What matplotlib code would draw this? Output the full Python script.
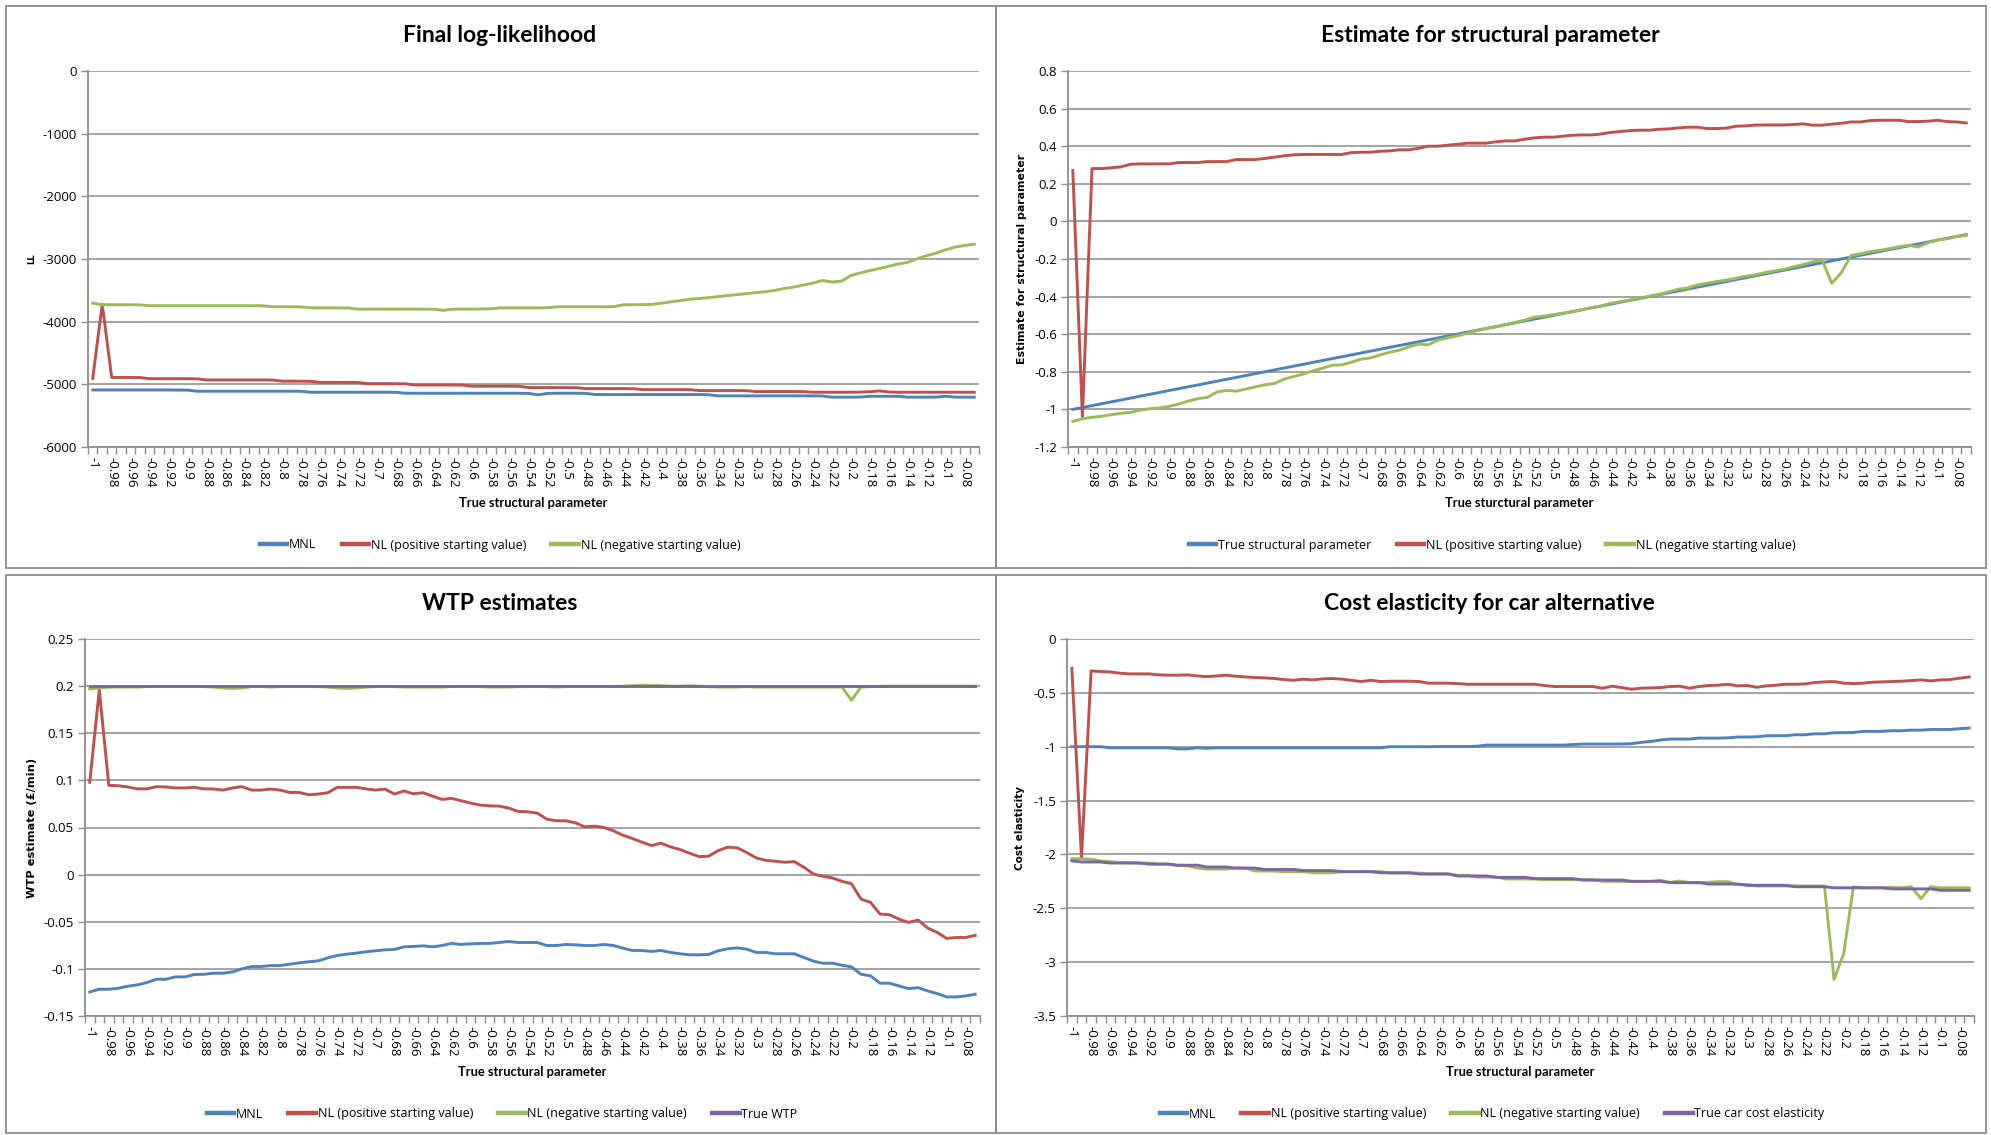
import numpy as np
import matplotlib
matplotlib.use("Agg")
import matplotlib.pyplot as plt
from matplotlib.lines import Line2D
from matplotlib.patches import Rectangle

# x categories: true structural parameter
categories = [
    -1.00, -0.99, -0.98, -0.97, -0.96, -0.95, -0.94, -0.93, -0.92, -0.91,
    -0.90, -0.89, -0.88, -0.87, -0.86, -0.85, -0.84, -0.83, -0.82, -0.81,
    -0.80, -0.79, -0.78, -0.77, -0.76, -0.75, -0.74, -0.73, -0.72, -0.71,
    -0.70, -0.69, -0.68, -0.67, -0.66, -0.65, -0.64, -0.63, -0.62, -0.61,
    -0.60, -0.59, -0.58, -0.57, -0.56, -0.55, -0.54, -0.53, -0.52, -0.51,
    -0.50, -0.49, -0.48, -0.47, -0.46, -0.45, -0.44, -0.43, -0.42, -0.41,
    -0.40, -0.39, -0.38, -0.37, -0.36, -0.35, -0.34, -0.33, -0.32, -0.31,
    -0.30, -0.29, -0.28, -0.27, -0.26, -0.25, -0.24, -0.23, -0.22, -0.21,
    -0.20, -0.19, -0.18, -0.17, -0.16, -0.15, -0.14, -0.13, -0.12, -0.11,
    -0.10, -0.09, -0.08, -0.07]

# final log-likelihood
ll_mnl = [
    -5090, -5090, -5090, -5090, -5090, -5090, -5090, -5090, -5090, -5092,
    -5092, -5110, -5110, -5110, -5110, -5110, -5110, -5110, -5110, -5110,
    -5110, -5110, -5112, -5126, -5126, -5126, -5126, -5126, -5126, -5126,
    -5126, -5126, -5128, -5142, -5142, -5142, -5142, -5142, -5142, -5142,
    -5142, -5142, -5142, -5142, -5142, -5142, -5145, -5168, -5145, -5142,
    -5142, -5142, -5145, -5163, -5163, -5163, -5163, -5163, -5163, -5163,
    -5163, -5163, -5163, -5163, -5163, -5166, -5184, -5184, -5184, -5184,
    -5184, -5184, -5184, -5184, -5184, -5184, -5184, -5186, -5205, -5205,
    -5205, -5203, -5190, -5190, -5190, -5192, -5205, -5205, -5205, -5203,
    -5190, -5205, -5205, -5205]
ll_nl_pos = [
    -4905, -3721, -4890, -4890, -4890, -4892, -4910, -4910, -4910, -4910,
    -4910, -4912, -4930, -4930, -4930, -4930, -4930, -4930, -4930, -4932,
    -4950, -4950, -4950, -4952, -4968, -4968, -4968, -4968, -4970, -4990,
    -4990, -4990, -4990, -4992, -5010, -5010, -5010, -5010, -5010, -5012,
    -5030, -5030, -5030, -5030, -5030, -5032, -5052, -5052, -5052, -5052,
    -5052, -5054, -5068, -5068, -5068, -5068, -5068, -5070, -5084, -5084,
    -5084, -5084, -5084, -5086, -5100, -5100, -5100, -5100, -5100, -5102,
    -5115, -5115, -5115, -5115, -5115, -5117, -5126, -5126, -5126, -5126,
    -5126, -5124, -5118, -5105, -5122, -5126, -5126, -5126, -5126, -5126,
    -5126, -5126, -5126, -5126]
ll_nl_neg = [
    -3705, -3730, -3730, -3730, -3730, -3732, -3745, -3745, -3745, -3745,
    -3745, -3745, -3745, -3745, -3745, -3745, -3745, -3745, -3747, -3763,
    -3763, -3763, -3765, -3780, -3780, -3780, -3780, -3782, -3800, -3800,
    -3800, -3800, -3800, -3800, -3800, -3800, -3802, -3820, -3800, -3800,
    -3800, -3798, -3795, -3780, -3780, -3780, -3780, -3780, -3778, -3763,
    -3763, -3763, -3763, -3763, -3763, -3760, -3730, -3730, -3728, -3725,
    -3705, -3685, -3663, -3642, -3631, -3615, -3600, -3584, -3568, -3552,
    -3536, -3521, -3500, -3468, -3447, -3415, -3384, -3342, -3368, -3352,
    -3263, -3221, -3184, -3152, -3115, -3079, -3052, -2995, -2947, -2905,
    -2852, -2810, -2784, -2763]

# estimate for structural parameter
est_true = [
    -1.00, -0.99, -0.98, -0.97, -0.96, -0.95, -0.94, -0.93, -0.92, -0.91,
    -0.90, -0.89, -0.88, -0.87, -0.86, -0.85, -0.84, -0.83, -0.82, -0.81,
    -0.80, -0.79, -0.78, -0.77, -0.76, -0.75, -0.74, -0.73, -0.72, -0.71,
    -0.70, -0.69, -0.68, -0.67, -0.66, -0.65, -0.64, -0.63, -0.62, -0.61,
    -0.60, -0.59, -0.58, -0.57, -0.56, -0.55, -0.54, -0.53, -0.52, -0.51,
    -0.50, -0.49, -0.48, -0.47, -0.46, -0.45, -0.44, -0.43, -0.42, -0.41,
    -0.40, -0.39, -0.38, -0.37, -0.36, -0.35, -0.34, -0.33, -0.32, -0.31,
    -0.30, -0.29, -0.28, -0.27, -0.26, -0.25, -0.24, -0.23, -0.22, -0.21,
    -0.20, -0.19, -0.18, -0.17, -0.16, -0.15, -0.14, -0.13, -0.12, -0.11,
    -0.10, -0.09, -0.08, -0.07]
est_nl_pos = [
    0.271, -1.04, 0.281, 0.281, 0.285, 0.290, 0.304, 0.306, 0.306, 0.306,
    0.306, 0.313, 0.313, 0.313, 0.318, 0.318, 0.318, 0.329, 0.329, 0.329,
    0.335, 0.342, 0.349, 0.354, 0.356, 0.356, 0.356, 0.356, 0.356, 0.366,
    0.368, 0.368, 0.373, 0.375, 0.381, 0.381, 0.389, 0.400, 0.400, 0.405,
    0.410, 0.416, 0.416, 0.416, 0.423, 0.428, 0.428, 0.437, 0.444, 0.448,
    0.448, 0.453, 0.458, 0.460, 0.460, 0.465, 0.473, 0.478, 0.483, 0.485,
    0.485, 0.490, 0.492, 0.497, 0.501, 0.501, 0.494, 0.494, 0.496, 0.506,
    0.508, 0.512, 0.513, 0.513, 0.513, 0.515, 0.519, 0.512, 0.512, 0.517,
    0.522, 0.529, 0.529, 0.536, 0.538, 0.538, 0.538, 0.531, 0.531, 0.533,
    0.538, 0.531, 0.529, 0.524]
est_nl_neg = [
    -1.064, -1.050, -1.042, -1.037, -1.028, -1.021, -1.016, -1.004, -0.996, -0.993,
    -0.984, -0.972, -0.956, -0.943, -0.936, -0.908, -0.899, -0.903, -0.892, -0.880,
    -0.869, -0.862, -0.839, -0.825, -0.812, -0.795, -0.781, -0.765, -0.763, -0.749,
    -0.733, -0.726, -0.710, -0.696, -0.685, -0.667, -0.653, -0.656, -0.632, -0.619,
    -0.609, -0.596, -0.582, -0.570, -0.562, -0.550, -0.538, -0.526, -0.510, -0.504,
    -0.496, -0.488, -0.481, -0.469, -0.458, -0.450, -0.435, -0.428, -0.419, -0.407,
    -0.398, -0.388, -0.375, -0.361, -0.354, -0.338, -0.329, -0.320, -0.313, -0.303,
    -0.292, -0.285, -0.273, -0.264, -0.255, -0.242, -0.230, -0.216, -0.205, -0.329,
    -0.273, -0.182, -0.172, -0.161, -0.154, -0.145, -0.135, -0.127, -0.136, -0.113,
    -0.099, -0.092, -0.081, -0.074]

# WTP estimates
wtp_mnl = [
    -0.1245, -0.1216, -0.1216, -0.1206, -0.1184, -0.1170, -0.1145, -0.1110, -0.1110, -0.1085,
    -0.1085, -0.1060, -0.1057, -0.1046, -0.1046, -0.1032, -0.1000, -0.0975, -0.0975, -0.0965,
    -0.0965, -0.0950, -0.0936, -0.0925, -0.0915, -0.0883, -0.0858, -0.0844, -0.0833, -0.0819,
    -0.0808, -0.0798, -0.0794, -0.0766, -0.0762, -0.0755, -0.0766, -0.0752, -0.0730, -0.0741,
    -0.0734, -0.0730, -0.0730, -0.0720, -0.0709, -0.0720, -0.0720, -0.0720, -0.0752, -0.0752,
    -0.0741, -0.0745, -0.0752, -0.0752, -0.0741, -0.0752, -0.0780, -0.0805, -0.0805, -0.0815,
    -0.0805, -0.0826, -0.0840, -0.0851, -0.0851, -0.0847, -0.0808, -0.0787, -0.0777, -0.0791,
    -0.0826, -0.0826, -0.0840, -0.0840, -0.0840, -0.0879, -0.0918, -0.0940, -0.0940, -0.0961,
    -0.0979, -0.1057, -0.1074, -0.1152, -0.1152, -0.1181, -0.1209, -0.1199, -0.1234, -0.1262,
    -0.1298, -0.1298, -0.1287, -0.1269]
wtp_nl_pos = [
    0.0980, 0.1960, 0.0947, 0.0943, 0.0930, 0.0910, 0.0910, 0.0933, 0.0930, 0.0920,
    0.0920, 0.0926, 0.0910, 0.0908, 0.0897, 0.0920, 0.0933, 0.0897, 0.0897, 0.0908,
    0.0897, 0.0872, 0.0872, 0.0847, 0.0855, 0.0869, 0.0926, 0.0926, 0.0926, 0.0910,
    0.0897, 0.0908, 0.0855, 0.0887, 0.0858, 0.0869, 0.0833, 0.0798, 0.0809, 0.0784,
    0.0759, 0.0738, 0.0730, 0.0727, 0.0706, 0.0670, 0.0667, 0.0652, 0.0589, 0.0571,
    0.0571, 0.0550, 0.0507, 0.0514, 0.0500, 0.0465, 0.0418, 0.0383, 0.0344, 0.0309,
    0.0333, 0.0294, 0.0266, 0.0227, 0.0191, 0.0195, 0.0255, 0.0291, 0.0284, 0.0234,
    0.0177, 0.0152, 0.0142, 0.0131, 0.0138, 0.0078, 0.0007, -0.0018, -0.0035, -0.0071,
    -0.0096, -0.0259, -0.0294, -0.0418, -0.0426, -0.0472, -0.0507, -0.0482, -0.0567, -0.0613,
    -0.0677, -0.0667, -0.0667, -0.0645]
wtp_nl_neg = [
    0.1970, 0.1980, 0.1990, 0.1990, 0.1990, 0.1990, 0.1995, 0.1995, 0.1995, 0.1995,
    0.1995, 0.1995, 0.1995, 0.1990, 0.1980, 0.1975, 0.1980, 0.1995, 0.1995, 0.1990,
    0.1995, 0.1995, 0.1995, 0.1995, 0.1995, 0.1990, 0.1980, 0.1975, 0.1980, 0.1990,
    0.1995, 0.1995, 0.1995, 0.1990, 0.1990, 0.1990, 0.1990, 0.1990, 0.1995, 0.1995,
    0.1995, 0.1995, 0.1990, 0.1990, 0.1990, 0.1995, 0.1995, 0.1995, 0.1995, 0.1990,
    0.1995, 0.1995, 0.1995, 0.1995, 0.1995, 0.1995, 0.2000, 0.2005, 0.2008, 0.2008,
    0.2005, 0.2000, 0.2000, 0.2003, 0.2000, 0.1995, 0.1990, 0.1990, 0.1990, 0.1995,
    0.1990, 0.1990, 0.1990, 0.1990, 0.1990, 0.1990, 0.1990, 0.1990, 0.1990, 0.1990,
    0.1850, 0.1990, 0.1995, 0.2000, 0.2000, 0.2000, 0.2000, 0.2000, 0.2000, 0.2000,
    0.2000, 0.2000, 0.2000, 0.2000]
wtp_true = [
    0.2, 0.2, 0.2, 0.2, 0.2, 0.2, 0.2, 0.2, 0.2, 0.2,
    0.2, 0.2, 0.2, 0.2, 0.2, 0.2, 0.2, 0.2, 0.2, 0.2,
    0.2, 0.2, 0.2, 0.2, 0.2, 0.2, 0.2, 0.2, 0.2, 0.2,
    0.2, 0.2, 0.2, 0.2, 0.2, 0.2, 0.2, 0.2, 0.2, 0.2,
    0.2, 0.2, 0.2, 0.2, 0.2, 0.2, 0.2, 0.2, 0.2, 0.2,
    0.2, 0.2, 0.2, 0.2, 0.2, 0.2, 0.2, 0.2, 0.2, 0.2,
    0.2, 0.2, 0.2, 0.2, 0.2, 0.2, 0.2, 0.2, 0.2, 0.2,
    0.2, 0.2, 0.2, 0.2, 0.2, 0.2, 0.2, 0.2, 0.2, 0.2,
    0.2, 0.2, 0.2, 0.2, 0.2, 0.2, 0.2, 0.2, 0.2, 0.2,
    0.2, 0.2, 0.2, 0.2]

# cost elasticity for car alternative
el_mnl = [
    -1.000, -1.000, -1.000, -1.000, -1.010, -1.010, -1.010, -1.010, -1.010, -1.010,
    -1.010, -1.020, -1.020, -1.010, -1.015, -1.010, -1.010, -1.010, -1.010, -1.010,
    -1.010, -1.010, -1.010, -1.010, -1.010, -1.010, -1.010, -1.010, -1.010, -1.010,
    -1.010, -1.010, -1.010, -1.000, -1.000, -1.000, -1.000, -1.000, -0.998, -0.998,
    -0.998, -0.998, -0.995, -0.985, -0.985, -0.985, -0.985, -0.985, -0.985, -0.985,
    -0.985, -0.985, -0.980, -0.975, -0.975, -0.975, -0.975, -0.975, -0.972, -0.960,
    -0.951, -0.938, -0.929, -0.929, -0.929, -0.920, -0.920, -0.920, -0.918, -0.910,
    -0.910, -0.908, -0.898, -0.898, -0.897, -0.889, -0.889, -0.880, -0.880, -0.870,
    -0.870, -0.868, -0.858, -0.858, -0.857, -0.852, -0.852, -0.846, -0.846, -0.840,
    -0.840, -0.840, -0.833, -0.827]
el_nl_pos = [
    -0.272, -2.030, -0.296, -0.302, -0.306, -0.318, -0.324, -0.324, -0.324, -0.333,
    -0.336, -0.336, -0.333, -0.343, -0.349, -0.343, -0.336, -0.346, -0.352, -0.358,
    -0.361, -0.367, -0.377, -0.383, -0.373, -0.380, -0.370, -0.367, -0.373, -0.383,
    -0.395, -0.383, -0.395, -0.392, -0.392, -0.392, -0.395, -0.410, -0.410, -0.410,
    -0.414, -0.420, -0.420, -0.420, -0.420, -0.420, -0.420, -0.420, -0.420, -0.432,
    -0.441, -0.441, -0.441, -0.441, -0.441, -0.457, -0.438, -0.451, -0.466, -0.457,
    -0.454, -0.451, -0.441, -0.438, -0.457, -0.441, -0.432, -0.429, -0.420, -0.435,
    -0.432, -0.448, -0.435, -0.429, -0.420, -0.420, -0.417, -0.404, -0.398, -0.395,
    -0.410, -0.414, -0.410, -0.401, -0.398, -0.395, -0.392, -0.386, -0.380, -0.389,
    -0.380, -0.377, -0.364, -0.352]
el_nl_neg = [
    -2.040, -2.040, -2.045, -2.060, -2.068, -2.075, -2.075, -2.080, -2.080, -2.090,
    -2.090, -2.105, -2.105, -2.127, -2.136, -2.136, -2.136, -2.127, -2.127, -2.154,
    -2.154, -2.154, -2.160, -2.160, -2.160, -2.170, -2.170, -2.170, -2.160, -2.160,
    -2.160, -2.160, -2.160, -2.173, -2.173, -2.173, -2.173, -2.180, -2.180, -2.180,
    -2.194, -2.194, -2.210, -2.210, -2.210, -2.228, -2.228, -2.228, -2.228, -2.234,
    -2.234, -2.234, -2.234, -2.234, -2.234, -2.250, -2.250, -2.250, -2.250, -2.250,
    -2.250, -2.240, -2.259, -2.247, -2.262, -2.262, -2.259, -2.253, -2.253, -2.280,
    -2.280, -2.293, -2.293, -2.293, -2.293, -2.293, -2.293, -2.293, -2.293, -3.160,
    -2.920, -2.300, -2.310, -2.310, -2.310, -2.305, -2.310, -2.300, -2.410, -2.300,
    -2.310, -2.310, -2.310, -2.310]
el_true = [
    -2.060, -2.070, -2.070, -2.070, -2.080, -2.080, -2.080, -2.080, -2.090, -2.090,
    -2.090, -2.100, -2.100, -2.100, -2.117, -2.117, -2.117, -2.127, -2.127, -2.127,
    -2.140, -2.140, -2.140, -2.140, -2.150, -2.150, -2.150, -2.150, -2.160, -2.160,
    -2.160, -2.160, -2.170, -2.170, -2.170, -2.170, -2.182, -2.182, -2.182, -2.182,
    -2.200, -2.200, -2.200, -2.200, -2.213, -2.213, -2.213, -2.213, -2.225, -2.225,
    -2.225, -2.225, -2.225, -2.238, -2.238, -2.238, -2.238, -2.238, -2.250, -2.250,
    -2.250, -2.250, -2.262, -2.262, -2.262, -2.262, -2.275, -2.275, -2.275, -2.275,
    -2.287, -2.287, -2.287, -2.287, -2.287, -2.300, -2.300, -2.300, -2.300, -2.310,
    -2.310, -2.310, -2.310, -2.310, -2.310, -2.320, -2.320, -2.320, -2.320, -2.320,
    -2.333, -2.333, -2.333, -2.333]

BLUE = '#4F81BD'
RED = '#C0504D'
GREEN = '#9BBB59'
PURPLE = '#8064A2'
GRID = '#9C9C9C'
EDGE = '#8C8C8C'

W, H = 1991, 1135
fig = plt.figure(figsize=(W / 100, H / 100), dpi=100)
fig.patch.set_facecolor('white')
renderer = fig.canvas.get_renderer()


def fx(px):
    return px / W


def fy(py):
    return 1 - py / H


def fmt(v):
    return f"{round(v, 4):g}"


def fit(t, length):
    # scale a text so its long side spans `length` pixels
    bb = t.get_window_extent(renderer)
    t.set_fontsize(t.get_fontsize() * length / max(bb.width, bb.height))


def chart(box, plot, title, title_pos, ylabel, ylabel_x, ylabel_len,
          xlabel, xlabel_y, series, yticks, legend_pos):
    # chart area border
    l, t, r, b = box
    fig.add_artist(Rectangle((fx(l), fy(b)), (r - l) / W, (b - t) / H,
                             transform=fig.transFigure, fill=False,
                             ec=EDGE, lw=1.3))
    pl, pt, pr, pb = plot
    ax = fig.add_axes([fx(pl), fy(pb), (pr - pl) / W, (pb - pt) / H])
    n = len(categories)
    idx = np.arange(n)
    handles = []
    for label, vals, color in series:
        ax.plot(idx, vals, color=color, lw=2.1, solid_joinstyle='round')
        handles.append(Line2D([], [], color=color, lw=3.2, label=label))

    ax.set_xlim(-0.5, n - 0.5)
    ax.set_ylim(yticks[0], yticks[-1])
    ax.set_yticks(yticks)
    ax.set_yticklabels([fmt(v) for v in yticks], family='Open Sans',
                       fontsize=9.5)
    ax.yaxis.grid(True, color=GRID, lw=1.3)
    ax.set_axisbelow(True)

    ax.set_xticks(idx[::2])
    ax.set_xticklabels([fmt(categories[i]) for i in idx[::2]], rotation=-90,
                       family='Open Sans', fontsize=9.5, va='top',
                       ha='center')
    ax.set_xticks(np.arange(n + 1) - 0.5, minor=True)
    ax.tick_params(axis='x', which='major', length=0, pad=7)
    ax.tick_params(axis='x', which='minor', length=5, color=EDGE, width=1)
    ax.tick_params(axis='y', length=5, color=EDGE, width=1, pad=3)

    for s in ('top', 'right'):
        ax.spines[s].set_visible(False)
    for s in ('left', 'bottom'):
        ax.spines[s].set_color(EDGE)
        ax.spines[s].set_linewidth(1.3)

    fig.text(fx(title_pos[0]), fy(title_pos[1]), title, ha='center',
             va='center', family='Lato', fontweight='bold', fontsize=16.5)
    yl = fig.text(fx(ylabel_x), fy((pt + pb) / 2), ylabel, rotation=90,
                  ha='center', va='center', family='DejaVu Sans',
                  fontweight='bold', fontsize=7)
    fit(yl, ylabel_len)
    xl = fig.text(fx((pl + pr) / 2), fy(xlabel_y), xlabel, ha='center',
                  va='center', family='Lato', fontweight='bold', fontsize=9)
    fit(xl, 148)
    fig.legend(handles=handles, loc='center',
               bbox_to_anchor=(fx(legend_pos[0]), fy(legend_pos[1])),
               ncol=len(handles), frameon=False, handlelength=2.2,
               handletextpad=0.15, columnspacing=2.0,
               prop={'family': 'Open Sans', 'size': 9})
    return ax


chart((6, 6, 996, 568), (88, 71, 979, 447), 'Final log-likelihood', (500, 36),
      'LL', 32, 11, 'True structural parameter', 503,
      [('MNL', ll_mnl, BLUE),
       ('NL (positive starting value)', ll_nl_pos, RED),
       ('NL (negative starting value)', ll_nl_neg, GREEN)],
      [-6000, -5000, -4000, -3000, -2000, -1000, 0], (500, 545))

chart((996, 6, 1986, 568), (1068, 71, 1971, 447),
      'Estimate for structural parameter', (1490, 36),
      'Estimate for structural parameter', 1022, 212,
      'True sturctural parameter', 503,
      [('True structural parameter', est_true, BLUE),
       ('NL (positive starting value)', est_nl_pos, RED),
       ('NL (negative starting value)', est_nl_neg, GREEN)],
      [-1.2, -1.0, -0.8, -0.6, -0.4, -0.2, 0.0, 0.2, 0.4, 0.6, 0.8],
      (1492, 545))

chart((6, 575, 996, 1133), (85, 639, 980, 1016), 'WTP estimates', (500, 603),
      'WTP estimate (£/min)', 32, 140, 'True structural parameter', 1072,
      [('MNL', wtp_mnl, BLUE),
       ('NL (positive starting value)', wtp_nl_pos, RED),
       ('NL (negative starting value)', wtp_nl_neg, GREEN),
       ('True WTP', wtp_true, PURPLE)],
      [-0.15, -0.1, -0.05, 0.0, 0.05, 0.1, 0.15, 0.2, 0.25], (502, 1114))

chart((996, 575, 1986, 1133), (1067, 639, 1974, 1016),
      'Cost elasticity for car alternative', (1489, 604),
      'Cost elasticity', 1020, 85, 'True structural parameter', 1072,
      [('MNL', el_mnl, BLUE),
       ('NL (positive starting value)', el_nl_pos, RED),
       ('NL (negative starting value)', el_nl_neg, GREEN),
       ('True car cost elasticity', el_true, PURPLE)],
      [-3.5, -3.0, -2.5, -2.0, -1.5, -1.0, -0.5, 0.0], (1492, 1114))

fig.savefig('out.png', dpi=100, facecolor='white')
